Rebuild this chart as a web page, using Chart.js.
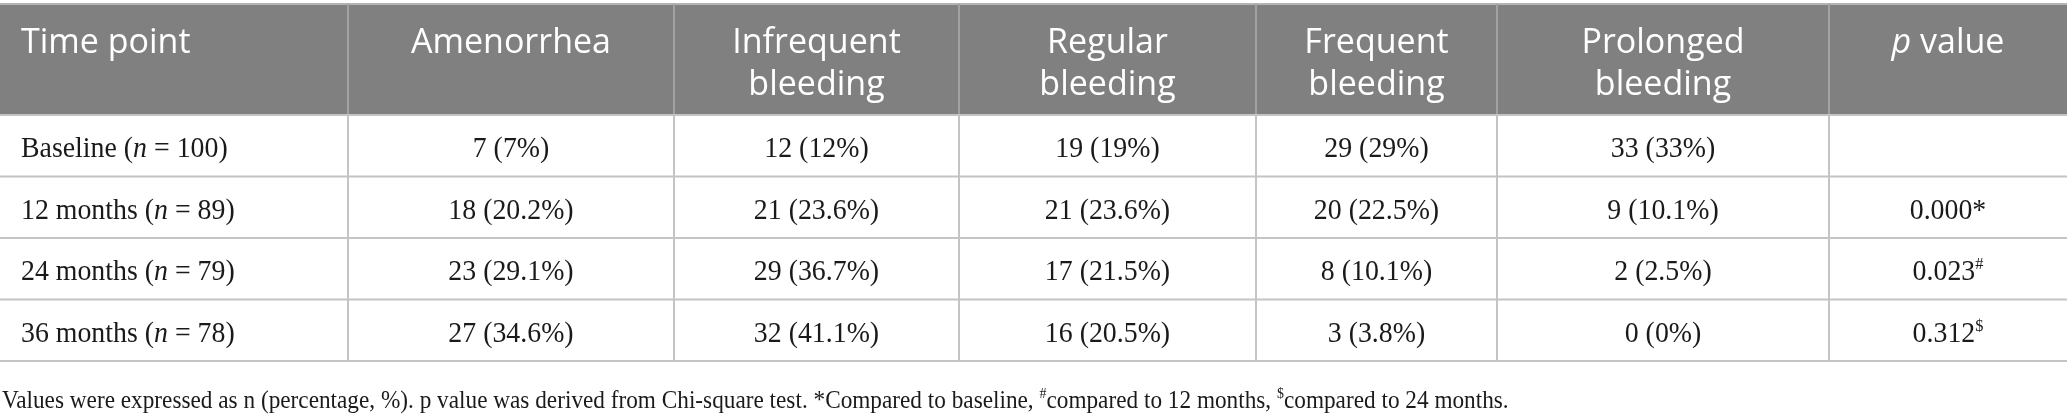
<!DOCTYPE html>
<html>
<head>
  <title>Bleeding patterns</title>
  <script src="https://cdn.jsdelivr.net/npm/chart.js"></script>
  <style>
    html, body { margin: 0; padding: 0; background: #ffffff; }
    .chart-container { width: 2067px; height: 415px; position: relative; }
  </style>
</head>

<body>
  <div class="chart-container">
    <canvas id="table-chart"></canvas>
  </div>

  <script>
    // Datos de la tabla
    var columns = ['Time point', 'Amenorrhea', 'Infrequent bleeding', 'Regular bleeding', 'Frequent bleeding', 'Prolonged bleeding', 'p value'];
    var timePoints = ['Baseline', '12 months', '24 months', '36 months'];
    var sampleSizes = [100, 89, 79, 78];

    var amenorrhea = [7, 18, 23, 27];
    var amenorrheaPct = [7, 20.2, 29.1, 34.6];
    var infrequent = [12, 21, 29, 32];
    var infrequentPct = [12, 23.6, 36.7, 41.1];
    var regular = [19, 21, 17, 16];
    var regularPct = [19, 23.6, 21.5, 20.5];
    var frequent = [29, 20, 8, 3];
    var frequentPct = [29, 22.5, 10.1, 3.8];
    var prolonged = [33, 9, 2, 0];
    var prolongedPct = [33, 10.1, 2.5, 0];

    var pValues = [null, 0.000, 0.023, 0.312];
    var pMarks = ['', '*', '#', '$'];

    var footnote = 'Values were expressed as n (percentage, %). p value was derived from Chi-square test. *Compared to baseline, ';
    var footnote2 = 'compared to 12 months, ';
    var footnote3 = 'compared to 24 months.';

    // Layout (pixels on the linear scales)
    var colEdges = [0, 348, 674, 959, 1256, 1497, 1829, 2067];
    var headerTop = 4;
    var headerBottom = 115;
    var rowHeight = 61.5;

    var headFont = '"Open Sans", "Noto Sans", sans-serif';
    var bodyFont = '"Liberation Serif", "DejaVu Serif", serif';

    var counts = [amenorrhea, infrequent, regular, frequent, prolonged];
    var pcts = [amenorrheaPct, infrequentPct, regularPct, frequentPct, prolongedPct];

    function fmtPct(v) {
      return Number.isInteger(v) ? String(v) : v.toFixed(1);
    }

    // runs = [{t, font, dy}]
    function runsWidth(ctx, runs) {
      var w = 0;
      runs.forEach(function (r) { ctx.font = r.font; w += ctx.measureText(r.t).width; });
      return w;
    }
    function drawRuns(ctx, runs, x, y, align, sx) {
      sx = sx || 1;
      var w = runsWidth(ctx, runs) * sx;
      var cx = align === 'center' ? x - w / 2 : x;
      ctx.save();
      ctx.translate(cx, y);
      ctx.scale(sx, 1);
      ctx.textAlign = 'left';
      var ox = 0;
      runs.forEach(function (r) {
        ctx.font = r.font;
        ctx.fillText(r.t, ox, -(r.dy || 0));
        ox += ctx.measureText(r.t).width;
      });
      ctx.restore();
    }

    var tablePlugin = {
      id: 'tablePlugin',
      afterDraw: function (chart) {
        var ctx = chart.ctx;
        var xs = chart.scales.x;
        var ys = chart.scales.y;
        var px = function (v) { return xs.getPixelForValue(v); };
        var py = function (v) { return ys.getPixelForValue(v); };
        var bodyBottom = headerBottom + rowHeight * timePoints.length;

        ctx.save();

        // header band
        ctx.fillStyle = '#808080';
        ctx.fillRect(px(0), py(headerTop), px(2067) - px(0), py(headerBottom) - py(headerTop));
        ctx.strokeStyle = '#b4b4b4';
        ctx.lineWidth = 2;
        ctx.beginPath();
        ctx.moveTo(px(0), py(headerTop));
        ctx.lineTo(px(2067), py(headerTop));
        ctx.stroke();

        // header dividers
        ctx.strokeStyle = '#a2a2a2';
        ctx.beginPath();
        for (var i = 1; i < colEdges.length - 1; i++) {
          ctx.moveTo(px(colEdges[i]), py(headerTop));
          ctx.lineTo(px(colEdges[i]), py(headerBottom));
        }
        ctx.stroke();

        // body grid
        ctx.strokeStyle = '#c4c4c4';
        ctx.beginPath();
        for (var r = 0; r <= timePoints.length; r++) {
          var yy = py(headerBottom + rowHeight * r);
          ctx.moveTo(px(0), yy);
          ctx.lineTo(px(2067), yy);
        }
        for (var c = 1; c < colEdges.length - 1; c++) {
          ctx.moveTo(px(colEdges[c]), py(headerBottom));
          ctx.lineTo(px(colEdges[c]), py(bodyBottom));
        }
        ctx.stroke();

        // header text
        ctx.fillStyle = '#ffffff';
        ctx.textBaseline = 'alphabetic';
        var hf = '400 34px ' + headFont;
        var hfi = 'italic 400 34px ' + headFont;
        columns.forEach(function (name, k) {
          var mid = (colEdges[k] + colEdges[k + 1]) / 2;
          if (k === 0) {
            drawRuns(ctx, [{ t: name, font: hf }], px(21), py(53), 'left');
          } else if (name === 'p value') {
            drawRuns(ctx, [{ t: 'p', font: hfi }, { t: ' value', font: hf }], px(mid), py(53), 'center');
          } else {
            var parts = name.split(' ');
            parts.forEach(function (word, j) {
              drawRuns(ctx, [{ t: word, font: hf }], px(mid), py(53 + j * 42), 'center');
            });
          }
        });

        // body text
        ctx.fillStyle = '#1a1a1a';
        var bf = '29px ' + bodyFont;
        var bfi = 'italic 29px ' + bodyFont;
        var sup = '17px ' + bodyFont;
        var bsx = 0.96;
        timePoints.forEach(function (tp, r) {
          var base = py(headerBottom + rowHeight * r + 42);
          drawRuns(ctx, [
            { t: tp + ' (', font: bf },
            { t: 'n', font: bfi },
            { t: ' = ' + sampleSizes[r] + ')', font: bf }
          ], px(21), base, 'left', bsx);

          for (var k = 0; k < counts.length; k++) {
            var mid = (colEdges[k + 1] + colEdges[k + 2]) / 2;
            var txt = counts[k][r] + ' (' + fmtPct(pcts[k][r]) + '%)';
            drawRuns(ctx, [{ t: txt, font: bf }], px(mid), base, 'center', bsx);
          }

          if (pValues[r] !== null) {
            var pm = (colEdges[6] + colEdges[7]) / 2;
            var runs = [{ t: pValues[r].toFixed(3), font: bf }];
            if (pMarks[r] === '*') runs.push({ t: '*', font: bf });
            else runs.push({ t: pMarks[r], font: sup, dy: 11 });
            drawRuns(ctx, runs, px(pm), base, 'center', bsx);
          }
        });

        // footnote
        var ff = '25px ' + bodyFont;
        var fs = '15px ' + bodyFont;
        drawRuns(ctx, [
          { t: footnote, font: ff },
          { t: '#', font: fs, dy: 10 },
          { t: footnote2, font: ff },
          { t: '$', font: fs, dy: 10 },
          { t: footnote3, font: ff }
        ], px(2), py(408), 'left', 0.93);

        ctx.restore();
      }
    };

    var config = {
      type: 'scatter',
      data: { datasets: [] },
      options: {
        responsive: true,
        maintainAspectRatio: false,
        animation: false,
        layout: { padding: 0 },
        plugins: { legend: { display: false }, tooltip: { enabled: false } },
        scales: {
          x: { type: 'linear', min: 0, max: 2067, display: false },
          y: { type: 'linear', min: 0, max: 415, reverse: true, display: false }
        }
      },
      plugins: [tablePlugin]
    };

    var ctx = document.getElementById('table-chart').getContext('2d');
    var chart = new Chart(ctx, config);
  </script>
</body>
</html>
